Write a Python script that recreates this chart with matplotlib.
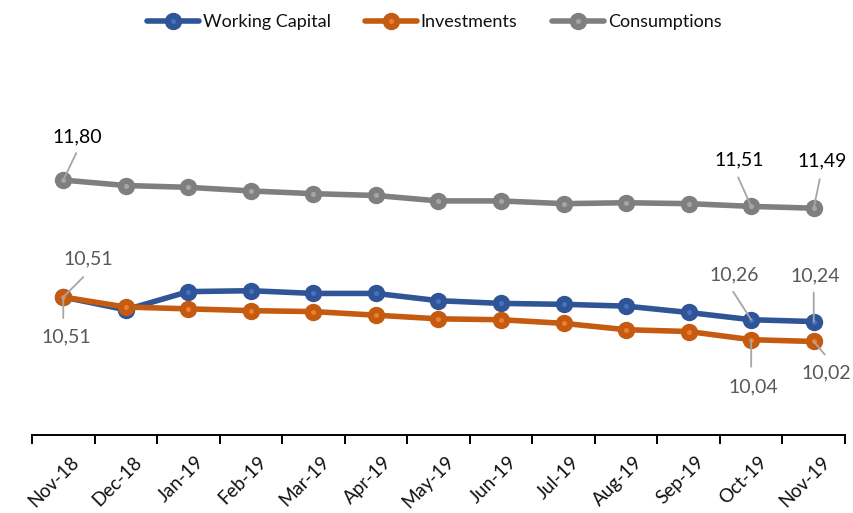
import matplotlib
matplotlib.use("Agg")
import matplotlib.pyplot as plt
import matplotlib.transforms as mtransforms
from matplotlib.legend_handler import HandlerTuple

plt.rcParams['font.family'] = ['Lato', 'DejaVu Sans']

months = ["Nov-18", "Dec-18", "Jan-19", "Feb-19", "Mar-19", "Apr-19", "May-19",
          "Jun-19", "Jul-19", "Aug-19", "Sep-19", "Oct-19", "Nov-19"]
working_capital = [10.51, 10.37, 10.57, 10.58, 10.55, 10.55, 10.47, 10.44, 10.43, 10.41, 10.34, 10.26, 10.24]
investments = [10.51, 10.40, 10.38, 10.36, 10.35, 10.31, 10.27, 10.26, 10.22, 10.15, 10.13, 10.04, 10.02]
consumptions = [11.80, 11.74, 11.72, 11.68, 11.65, 11.63, 11.57, 11.57, 11.54, 11.55, 11.54, 11.51, 11.49]

series = [
    ("Working Capital", working_capital, "#2F5597", "#4472C4"),
    ("Investments", investments, "#C55A11", "#ED7D31"),
    ("Consumptions", consumptions, "#7F7F7F", "#A5A5A5"),
]

W, H = 854, 513
fig = plt.figure(figsize=(W / 100, H / 100), dpi=100)
ax = fig.add_axes([32 / W, 1 - 435 / H, (845 - 32) / W, 300 / H])

x = list(range(len(months)))
handles = []
for name, vals, dark, light in series:
    l1, = ax.plot(x, vals, color=dark, lw=4.0, marker='o', ms=11.5,
                  markerfacecolor=dark, markeredgecolor=dark, solid_capstyle='round')
    l2, = ax.plot(x, vals, ls='none', marker='o', ms=2.6, markerfacecolor=light,
                  markeredgecolor=light)
    handles.append((l1, l2))

ax.set_xlim(-0.5, len(months) - 0.5)
ax.set_ylim(8.989, 12.297)
ax.set_yticks([])
for s in ['left', 'right', 'top']:
    ax.spines[s].set_visible(False)
ax.spines['bottom'].set_linewidth(1.4)
ax.spines['bottom'].set_color('#000000')

ax.set_xticks([i - 0.5 for i in range(len(months) + 1)], minor=True)
ax.set_xticks(x)
ax.tick_params(axis='x', which='minor', length=6.5, width=1.4, direction='out', color='#000000')
ax.tick_params(axis='x', which='major', length=0, pad=13)
ax.set_xticklabels(months, rotation=45, ha='right', va='top', rotation_mode='anchor',
                   fontsize=13.5, color='#111111')
offset = mtransforms.ScaledTranslation(7 / 100, 0, fig.dpi_scale_trans)
for lab in ax.get_xticklabels():
    lab.set_transform(lab.get_transform() + offset)

leader_col = '#A6A6A6'

def label(i, vals, text_off, lead_off, color):
    v = vals[i]
    ax.annotate('', xy=(i, v), xytext=lead_off, textcoords='offset pixels',
                arrowprops=dict(arrowstyle='-', color=leader_col, lw=1.3,
                                shrinkA=0, shrinkB=0), zorder=5)
    ax.annotate(f"{v:.2f}".replace('.', ','), xy=(i, v), xytext=text_off,
                textcoords='offset pixels', ha='center', va='center',
                fontsize=14, color=color, zorder=6)

n = len(months) - 1
label(0, consumptions, (14, 43), (13, 27), '#000000')
label(n - 1, consumptions, (-12, 46), (-13, 29), '#000000')
label(n, consumptions, (8, 47), (6, 29), '#000000')
label(0, working_capital, (25, 38), (20, 20), '#595959')
label(0, investments, (3, -40), (0, -21), '#595959')
label(n - 1, working_capital, (-17, 45), (-18, 28), '#595959')
label(n, working_capital, (1, 46), (0, 29), '#595959')
label(n - 1, investments, (2, -47), (0, -27), '#595959')
label(n, investments, (13, -31), (11, -13), '#595959')

fig.legend(handles, [s[0] for s in series], handler_map={tuple: HandlerTuple(ndivide=1)},
           loc='center', bbox_to_anchor=(434 / W, 1 - 22 / H), ncol=3, frameon=False,
           fontsize=13, handlelength=2.9, handletextpad=0.2, columnspacing=1.9,
           labelcolor='#111111')

fig.savefig("out.png", dpi=100)
